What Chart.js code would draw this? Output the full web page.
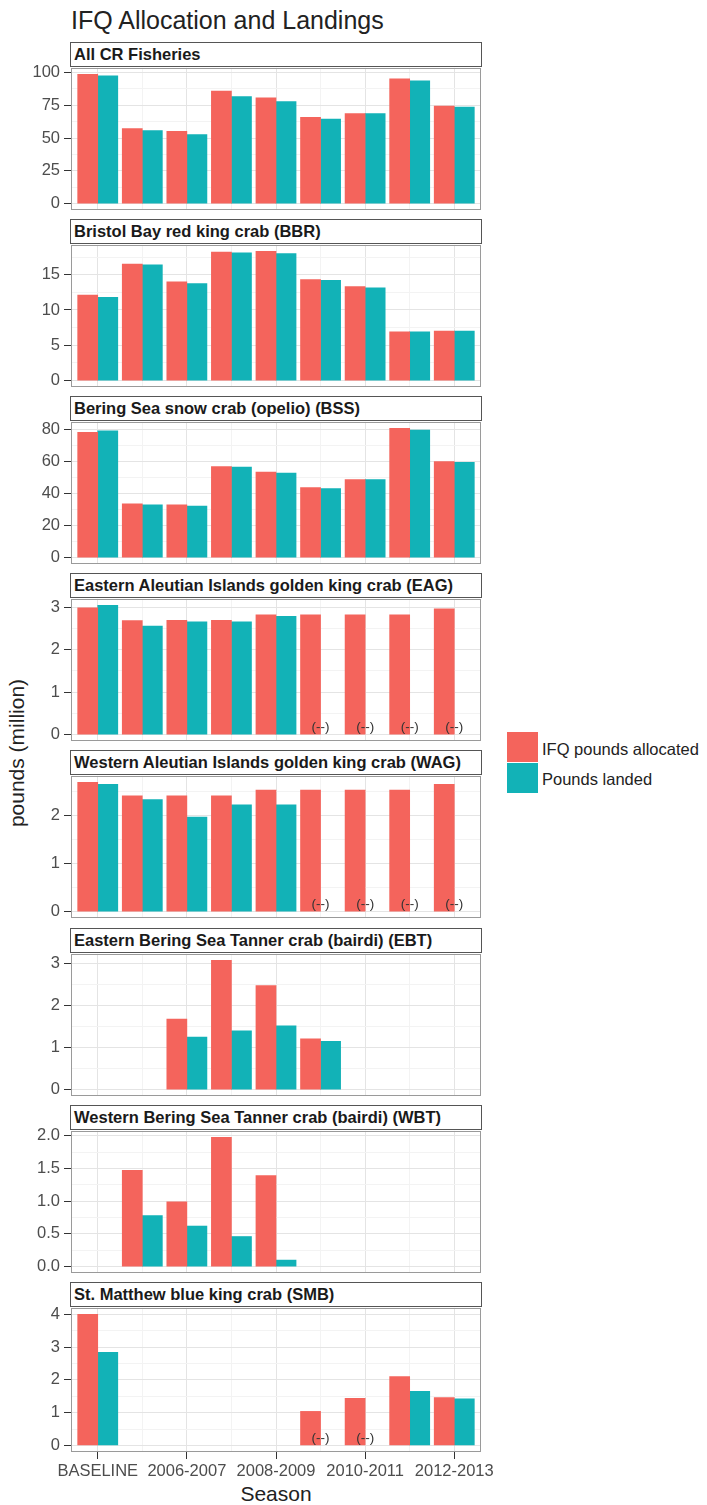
<!DOCTYPE html>
<html>
<head>
<meta charset="utf-8">
<title>IFQ Allocation and Landings</title>
<script src="https://cdn.jsdelivr.net/npm/chart.js@4.4.1/dist/chart.umd.min.js"></script>
<style>
  html,body{margin:0;padding:0;background:#fff;}
  body{position:relative;width:707px;height:1505px;overflow:hidden;font-family:"Liberation Sans",Arial,Helvetica,sans-serif;}
  canvas.panel{position:absolute;left:0;}
  .strip{position:absolute;left:70px;width:412px;height:25px;box-sizing:border-box;border:1px solid #555;background:#fff;
         font-weight:bold;font-size:16.5px;line-height:23px;padding-left:3px;color:#1a1a1a;white-space:nowrap;overflow:hidden;}
  #title{position:absolute;left:71px;top:8px;font-size:25px;line-height:25px;color:#222;white-space:nowrap;}
  #ytitle{position:absolute;left:16px;top:753px;transform:translate(-50%,-50%) rotate(-90deg);font-size:21px;line-height:21px;color:#222;white-space:nowrap;}
  #xtitle{position:absolute;left:276px;top:1493px;transform:translate(-50%,-50%);font-size:21px;line-height:21px;color:#222;white-space:nowrap;}
  .lkey{position:absolute;left:507px;width:31px;height:30px;}
  .ltext{position:absolute;left:542px;font-size:16.5px;line-height:16.5px;color:#222;white-space:nowrap;transform:translateY(-50%);}
</style>
</head>
<body>
<div id="title">IFQ Allocation and Landings</div>
<div id="ytitle">pounds (million)</div>
<div id="xtitle">Season</div>
<script>
// ---------------- data ----------------
const seasons = ['BASELINE','2005-2006','2006-2007','2007-2008','2008-2009','2009-2010','2010-2011','2011-2012','2012-2013'];
const xTickLabels = ['BASELINE','2006-2007','2008-2009','2010-2011','2012-2013'];
const seriesNames = ['IFQ pounds allocated','Pounds landed'];
const fisheries = [
  'All CR Fisheries',
  'Bristol Bay red king crab (BBR)',
  'Bering Sea snow crab (opelio) (BSS)',
  'Eastern Aleutian Islands golden king crab (EAG)',
  'Western Aleutian Islands golden king crab (WAG)',
  'Eastern Bering Sea Tanner crab (bairdi) (EBT)',
  'Western Bering Sea Tanner crab (bairdi) (WBT)',
  'St. Matthew blue king crab (SMB)'
];

const allocAll  = [98.5, 57.1, 55.1, 85.8, 80.6, 65.7, 68.6, 95.1, 74.3];
const landedAll = [97.3, 55.6, 52.7, 81.6, 77.7, 64.5, 68.6, 93.6, 73.5];
const allocBBR  = [12.1, 16.5, 14.0, 18.2, 18.3, 14.3, 13.3, 6.9, 7.0];
const landedBBR = [11.8, 16.4, 13.75, 18.1, 18.0, 14.2, 13.15, 6.9, 7.0];
const allocBSS  = [77.9, 33.4, 32.8, 56.7, 53.2, 43.5, 48.6, 80.4, 59.7];
const landedBSS = [78.9, 32.8, 32.0, 56.3, 52.6, 42.9, 48.6, 79.4, 59.3];
const allocEAG  = [2.98, 2.68, 2.69, 2.69, 2.82, 2.82, 2.82, 2.82, 2.96];
const landedEAG = [3.04, 2.55, 2.65, 2.65, 2.78, null, null, null, null];
const allocWAG  = [2.69, 2.41, 2.41, 2.41, 2.53, 2.53, 2.53, 2.53, 2.65];
const landedWAG = [2.65, 2.33, 1.97, 2.22, 2.22, null, null, null, null];
const allocEBT  = [null, null, 1.68, 3.08, 2.48, 1.21, null, null, null];
const landedEBT = [null, null, 1.25, 1.40, 1.52, 1.15, null, null, null];
const allocWBT  = [null, 1.47, 0.99, 1.975, 1.39, null, null, null, null];
const landedWBT = [null, 0.78, 0.62, 0.46, 0.10, null, null, null, null];
const allocSMB  = [4.0, null, null, null, null, 1.04, 1.44, 2.10, 1.46];
const landedSMB = [2.84, null, null, null, null, null, null, 1.65, 1.42];

// seasons whose landings are confidential, marked "(--)"
const confidentialMark = '(--)';
const confAll = [], confBBR = [], confBSS = [], confEBT = [], confWBT = [];
const confEAG = ['2009-2010','2010-2011','2011-2012','2012-2013'];
const confWAG = ['2009-2010','2010-2011','2011-2012','2012-2013'];
const confSMB = ['2009-2010','2010-2011'];

// y tick labels per panel
const yTicksAll = ['0','25','50','75','100'];
const yTicksBBR = ['0','5','10','15'];
const yTicksBSS = ['0','20','40','60','80'];
const yTicksEAG = ['0','1','2','3'];
const yTicksWAG = ['0','1','2'];
const yTicksEBT = ['0','1','2','3'];
const yTicksWBT = ['0.0','0.5','1.0','1.5','2.0'];
const yTicksSMB = ['0','1','2','3','4'];

const panels = [
  [allocAll, landedAll, yTicksAll, confAll],
  [allocBBR, landedBBR, yTicksBBR, confBBR],
  [allocBSS, landedBSS, yTicksBSS, confBSS],
  [allocEAG, landedEAG, yTicksEAG, confEAG],
  [allocWAG, landedWAG, yTicksWAG, confWAG],
  [allocEBT, landedEBT, yTicksEBT, confEBT],
  [allocWBT, landedWBT, yTicksWBT, confWBT],
  [allocSMB, landedSMB, yTicksSMB, confSMB]
];

// ---------------- style ----------------
const COLORS = ['#F4645C', '#12B2B7'];
const FONT = '"Liberation Sans", Arial, Helvetica, sans-serif';
const TICK_COLOR = '#4d4d4d';
const GRID_MAJOR = '#e4e4e4';
const GRID_MINOR = '#f3f3f3';

// legend
seriesNames.forEach((name, i) => {
  const k = document.createElement('div');
  k.className = 'lkey';
  k.style.top = (732 + i * 30.5) + 'px';
  k.style.background = COLORS[i];
  document.body.appendChild(k);
  const t = document.createElement('div');
  t.className = 'ltext';
  t.style.top = (748.5 + i * 30) + 'px';
  t.textContent = name;
  document.body.appendChild(t);
});

const borderPlugin = {
  id: 'panelBorder',
  afterDraw(chart) {
    const a = chart.chartArea, ctx = chart.ctx;
    ctx.save();
    ctx.strokeStyle = '#9a9a9a';
    ctx.lineWidth = 1;
    ctx.strokeRect(Math.round(a.left) + 0.5, Math.round(a.top) + 0.5,
                   Math.round(a.right - a.left) - 1, Math.round(a.bottom - a.top) - 1);
    ctx.restore();
  }
};

const notePlugin = {
  id: 'notes',
  afterDatasetsDraw(chart, args, opts) {
    const list = opts.seasons || [];
    if (!list.length) return;
    const ctx = chart.ctx, x = chart.scales.x, y = chart.scales.y;
    ctx.save();
    ctx.font = '13.5px ' + FONT;
    ctx.fillStyle = '#333';
    ctx.textAlign = 'center';
    ctx.textBaseline = 'middle';
    list.forEach(s => {
      const i = seasons.indexOf(s);
      ctx.fillText(confidentialMark, x.getPixelForValue(i + 1), y.getPixelForValue(0) - 7);
    });
    ctx.restore();
  }
};

const PAD = 12;
const PLOT_H = 146;
const CANVAS_W = 530;
const PLOT_RIGHT = 481;

panels.forEach((p, idx) => {
  const [alloc, landed, yLabels, conf] = p;
  const last = idx === panels.length - 1;
  const stripTop = Math.round(42 + idx * 177.1);
  const plotTop = stripTop + 24;

  const strip = document.createElement('div');
  strip.className = 'strip';
  strip.style.top = stripTop + 'px';
  strip.textContent = fisheries[idx];

  const canvas = document.createElement('canvas');
  canvas.className = 'panel';
  canvas.width = CANVAS_W;
  canvas.height = PAD + PLOT_H + (last ? 50 : PAD);
  canvas.style.top = (plotTop - PAD) + 'px';
  document.body.appendChild(canvas);
  document.body.appendChild(strip);

  const M = Math.max(...alloc.concat(landed).filter(v => v !== null));
  const major = Number(yLabels[1]) - Number(yLabels[0]);
  const minor = major / 2;
  const isMajorY = v => yLabels.some(l => Math.abs(Number(l) - v) < 1e-9);
  const isMajorX = v => xTickLabels.includes(seasons[Math.round(v) - 1]);

  new Chart(canvas, {
    type: 'bar',
    data: {
      datasets: [alloc, landed].map((arr, k) => ({
        label: seriesNames[k],
        data: arr.map((v, i) => ({ x: i + 1, y: v })),
        backgroundColor: COLORS[k],
        borderWidth: 0,
        barThickness: 'flex',
        categoryPercentage: 0.9,
        barPercentage: 1.0
      }))
    },
    options: {
      responsive: false,
      animation: false,
      events: [],
      layout: { padding: { left: 0, right: CANVAS_W - PLOT_RIGHT, top: PAD, bottom: last ? 0 : PAD } },
      plugins: {
        legend: { display: false },
        tooltip: { enabled: false },
        notes: { seasons: conf }
      },
      scales: {
        x: {
          type: 'linear',
          min: 0.4, max: 9.6,
          offset: false,
          bounds: 'data',
          border: { display: false },
          grid: {
            offset: false,
            drawTicks: last,
            tickLength: 7,
            color: c => isMajorX(c.tick.value) ? GRID_MAJOR : GRID_MINOR,
            tickColor: c => isMajorX(c.tick.value) ? '#333' : 'rgba(0,0,0,0)'
          },
          ticks: {
            display: last,
            autoSkip: false,
            maxRotation: 0,
            padding: 3,
            color: TICK_COLOR,
            font: { family: FONT, size: 16.5 },
            callback: v => isMajorX(v) ? seasons[Math.round(v) - 1] : ''
          },
          afterBuildTicks: s => { s.ticks = seasons.map((_, i) => ({ value: i + 1 })); },
          afterFit: s => { s.height = last ? 50 : 0; }
        },
        y: {
          type: 'linear',
          min: -0.05 * M, max: 1.05 * M,
          bounds: 'data',
          border: { display: false },
          grid: {
            drawTicks: true,
            tickLength: 7,
            color: c => isMajorY(c.tick.value) ? GRID_MAJOR : GRID_MINOR,
            tickColor: c => isMajorY(c.tick.value) ? '#333' : 'rgba(0,0,0,0)'
          },
          ticks: {
            autoSkip: false,
            padding: 4,
            color: TICK_COLOR,
            font: { family: FONT, size: 16.5 },
            callback: v => {
              const l = yLabels.find(t => Math.abs(Number(t) - v) < 1e-9);
              return l === undefined ? '' : l;
            }
          },
          afterBuildTicks: s => {
            const out = [];
            for (let k = Math.ceil(s.min / minor - 1e-9); k * minor <= s.max + 1e-9; k++) {
              out.push({ value: +(k * minor).toFixed(6) });
            }
            s.ticks = out;
          },
          afterFit: s => { s.width = 71; }
        }
      }
    },
    plugins: [borderPlugin, notePlugin]
  });
});
</script>
</body>
</html>
